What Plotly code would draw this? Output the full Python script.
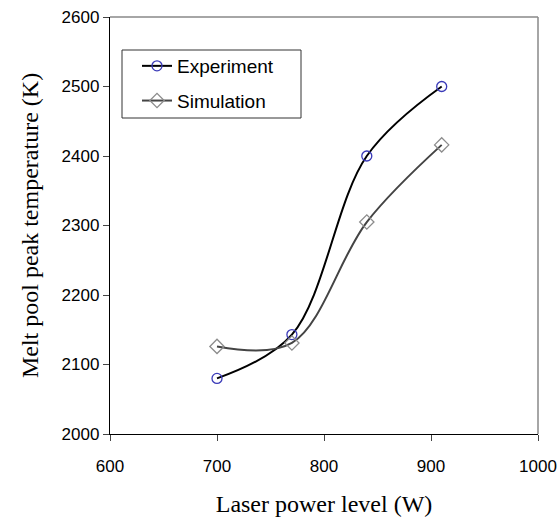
import plotly.graph_objects as go

power = [700, 770, 840, 910]
experiment = [2080, 2143, 2400, 2500]
simulation = [2126, 2131, 2305, 2416]
x_ticks = [600, 700, 800, 900, 1000]
y_ticks = [2000, 2100, 2200, 2300, 2400, 2500, 2600]

fig = go.Figure()
fig.add_trace(go.Scatter(
    x=power, y=experiment, name="Experiment", mode="lines+markers",
    line=dict(color="black", width=2, shape="spline", smoothing=1.0),
    marker=dict(symbol="circle-open", size=10, color="#3a3ab8", line=dict(width=1.3)),
    legendgroup="a"))
fig.add_trace(go.Scatter(
    x=power, y=simulation, name="Simulation", mode="lines+markers",
    line=dict(color="#444444", width=2, shape="spline", smoothing=1.0),
    marker=dict(symbol="diamond-open", size=11, color="#8c8c8c", line=dict(width=1.3)),
    legendgroup="b"))

W, H = 560, 521
L, R, T, B = 110, 22, 17, 87
pw, ph = W - L - R, H - T - B

def px(xp):
    return (xp - L) / pw

def py(yp):
    return (H - B - yp) / ph

fig.update_layout(
    width=W, height=H,
    margin=dict(l=L, r=R, t=T, b=B, autoexpand=False),
    plot_bgcolor="white", paper_bgcolor="white",
    font=dict(family="Liberation Sans, Arial", color="black", size=17),
    showlegend=True,
    legend=dict(x=px(137), y=py(47), xanchor="left", yanchor="top",
                bgcolor="rgba(0,0,0,0)", borderwidth=0,
                font=dict(size=19, family="Liberation Sans, Arial"),
                traceorder="grouped", tracegroupgap=7),
    shapes=[
        dict(type="line", xref="paper", yref="paper", x0=0, x1=1, y0=1, y1=1,
             line=dict(color="#888888", width=1.5)),
        dict(type="line", xref="paper", yref="paper", x0=1, x1=1, y0=0, y1=1,
             line=dict(color="#888888", width=1.5)),
        dict(type="rect", xref="paper", yref="paper",
             x0=px(122), x1=px(301), y0=py(118), y1=py(50),
             line=dict(color="#333333", width=1)),
    ],
)
fig.update_xaxes(
    range=[600, 1000], tickvals=x_ticks, ticks="outside", ticklen=6,
    ticklabelstandoff=10, automargin=False,
    showline=True, linecolor="black", linewidth=1.3, showgrid=False, zeroline=False,
    title=dict(text="Laser power level (W)", font=dict(family="Liberation Serif, Times New Roman", size=24), standoff=20),
    tickfont=dict(size=17))
fig.update_yaxes(
    range=[2000, 2600], tickvals=y_ticks, ticks="outside", ticklen=6,
    automargin=False,
    showline=True, linecolor="black", linewidth=1.3, showgrid=False, zeroline=False,
    title=dict(text="Melt pool peak temperature (K)", font=dict(family="Liberation Serif, Times New Roman", size=24), standoff=16),
    tickfont=dict(size=17))

fig.write_html("out.html")
